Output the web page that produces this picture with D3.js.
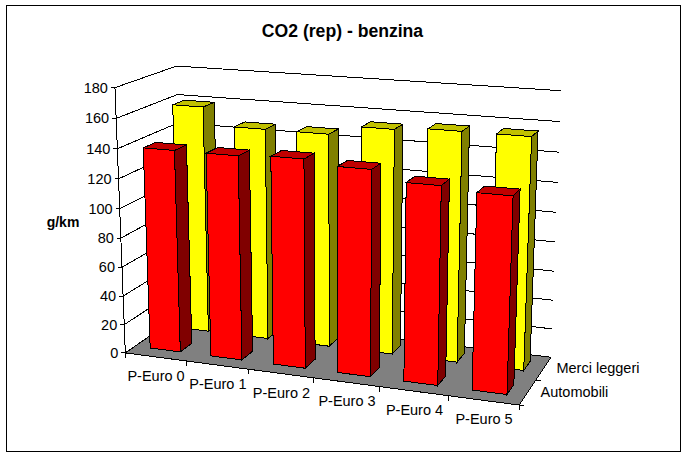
<!DOCTYPE html>
<html><head><meta charset="utf-8">
<script src="https://cdn.jsdelivr.net/npm/d3@7"></script>
<style>html,body{margin:0;padding:0;background:#fff}svg{display:block}text{font-family:"Liberation Sans",Arial,sans-serif;fill:#000}</style>
</head><body><div id="c"></div>
<script>
const categories = ["P-Euro 0","P-Euro 1","P-Euro 2","P-Euro 3","P-Euro 4","P-Euro 5"];
const seriesNames = ["Automobili","Merci leggeri"];
const automobili = [138.5,138.5,140,137,130.5,128];
const merciLeggeri = [159,147,147,153.5,155.5,155.5];
const valueTicks = [0,20,40,60,80,100,120,140,160,180];
const title = "CO2 (rep) - benzina";
const yTitle = "g/km";
const W = 686, H = 457;

// Axis scales to a unit cube
const sx = d3.scaleLinear().domain([0, categories.length]).range([0, 1]);
const sd = d3.scaleLinear().domain([0, seriesNames.length]).range([0, 1]);
const sv = d3.scaleLinear().domain([0, 180]).range([0, 1]);

// Camera calibration: unit cube point -> screen point
const anchors = [
  [0,0,0,126,353],[1,0,0,520,404],[1,1,0,551,357],[0,1,0,183,312],
  [0,0,1,115,87],[0,1,1,177,66],[1,1,1,561,91],
  [1/6,0,0,187,362],[2/6,0,0,248,370],[3/6,0,0,313,379],[4/6,0,0,379,387],[5/6,0,0,448,395],
  [1,1,160/180,560,122],[1,1,20/180,552,328],[1,1,40/180,554,301],
  [0,1,160/180,177,95],[0,0,160/180,116,118],[0,0,20/180,125,324]
];
function solveCamera(pts){
  const n=11, A=d3.range(n).map(()=>new Array(n+1).fill(0));
  const add=(r,b)=>{for(let i=0;i<n;i++){for(let j=0;j<n;j++)A[i][j]+=r[i]*r[j];A[i][n]+=r[i]*b;}};
  pts.forEach(([x,y,z,u,v])=>{
    add([x,y,z,1,0,0,0,0,-u*x,-u*y,-u*z],u);
    add([0,0,0,0,x,y,z,1,-v*x,-v*y,-v*z],v);
  });
  for(let i=0;i<n;i++){
    let p=i;for(let k=i+1;k<n;k++)if(Math.abs(A[k][i])>Math.abs(A[p][i]))p=k;
    [A[i],A[p]]=[A[p],A[i]];
    for(let k=0;k<n;k++){if(k===i)continue;const f=A[k][i]/A[i][i];for(let j=i;j<=n;j++)A[k][j]-=f*A[i][j];}
  }
  return A.map((r,i)=>r[n]/r[i]);
}
const M = solveCamera(anchors);
function proj(c,d,v){
  const x=sx(c),y=sd(d),z=sv(v);
  const w=M[8]*x+M[9]*y+M[10]*z+1;
  return [(M[0]*x+M[1]*y+M[2]*z+M[3])/w,(M[4]*x+M[5]*y+M[6]*z+M[7])/w];
}
const path = d3.line();
const svg = d3.select("#c").append("svg").attr("width",W).attr("height",H);
svg.append("rect").attr("x",6.5).attr("y",5.5).attr("width",674).attr("height",446)
  .attr("fill","#fff").attr("stroke","#000").attr("shape-rendering","crispEdges");

const nC = categories.length;
const g = svg.append("g").attr("shape-rendering","crispEdges");
const poly=(pts,fill)=>g.append("path").attr("d",path(pts)+"Z").attr("fill",fill).attr("stroke","#000").attr("stroke-width",1);
const seg=(a,b)=>g.append("path").attr("d",path([a,b])).attr("fill","none").attr("stroke","#000").attr("stroke-width",1);

// Gridlines on side and back walls
valueTicks.forEach(v=>{
  if(v>0){ g.append("path").attr("d",path([proj(0,0,v),proj(0,2,v),proj(nC,2,v)])).attr("fill","none").attr("stroke","#000"); }
});
// Floor
poly([proj(0,0,0),proj(nC,0,0),proj(nC,2,0),proj(0,2,0)],"#808080");
// Value axis and ticks
seg(proj(0,0,0),proj(0,0,180));
valueTicks.forEach(v=>{
  const p=proj(0,0,v);
  seg([p[0]-4,p[1]],p);
  svg.append("text").attr("x",p[0]-7).attr("y",p[1]+5).attr("text-anchor","end").attr("font-size",14.5).text(v);
});
// Category ticks and labels
d3.range(nC+1).forEach(i=>{
  const p=proj(i,0,0); seg(p,[p[0],p[1]+5]);
});
categories.forEach((c,i)=>{
  const p=proj(i+0.5,0,0);
  svg.append("text").attr("x",p[0]+0.5).attr("y",p[1]+24).attr("text-anchor","middle").attr("font-size",14.5).text(c);
});
// Depth ticks and labels
d3.range(seriesNames.length+1).forEach(i=>{
  const p=proj(nC,i,0); seg(p,[p[0]+ (i<2?5:0),p[1]]);
});
seriesNames.forEach((s,i)=>{
  const p=proj(nC,i+0.5,0);
  svg.append("text").attr("x",p[0]+13).attr("y",p[1]+5).attr("font-size",14.5).text(s);
});
// Bars, back series first
const barX=[0.25,0.75], barD=[0.32,0.72];
const styles=[{f:"#ff0000",s:"#800000",t:"#c00000"},{f:"#ffff00",s:"#808000",t:"#c0c000"}];
[merciLeggeri,automobili].forEach((vals,k)=>{
  const di=1-k, st=styles[di];
  vals.forEach((v,i)=>{
    const x0=i+barX[0],x1=i+barX[1],d0=di+barD[0],d1=di+barD[1];
    poly([proj(x1,d0,0),proj(x1,d1,0),proj(x1,d1,v),proj(x1,d0,v)],st.s);
    poly([proj(x0,d0,v),proj(x1,d0,v),proj(x1,d1,v),proj(x0,d1,v)],st.t);
    poly([proj(x0,d0,0),proj(x1,d0,0),proj(x1,d0,v),proj(x0,d0,v)],st.f);
  });
});
svg.append("text").attr("x",342.5).attr("y",37).attr("text-anchor","middle").attr("font-size",17.6).attr("font-weight","bold").text(title);
svg.append("text").attr("x",63).attr("y",227).attr("text-anchor","middle").attr("font-size",14).attr("font-weight","bold").text(yTitle);
</script></body></html>
